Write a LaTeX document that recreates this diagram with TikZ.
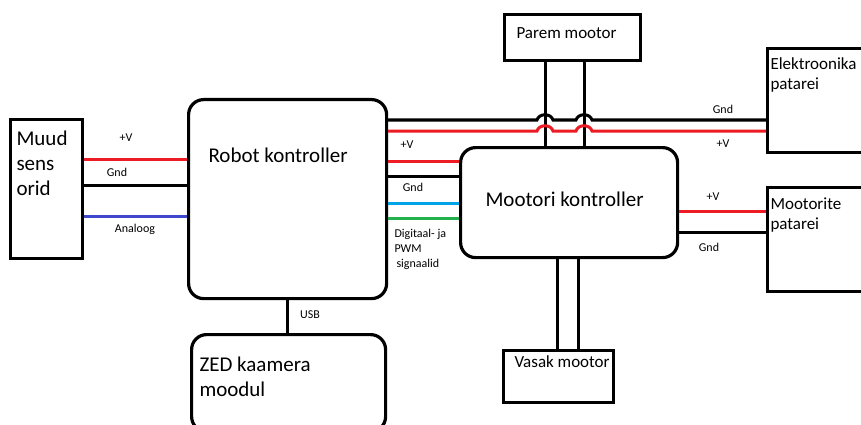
\documentclass[tikz,border=0pt]{standalone}
\usepackage{fontspec}
\setmainfont{Carlito}
\definecolor{wirered}{RGB}{237,28,36}
\definecolor{wireblue}{RGB}{63,72,204}
\definecolor{wirecyan}{RGB}{0,162,232}
\definecolor{wiregreen}{RGB}{34,177,76}
\begin{document}
\begin{tikzpicture}
  [x = 1pt, y = -1pt, line width = 3pt,
   box/.style = {draw, line width = 3.2pt, anchor = north west, inner sep = 0pt},
   rbox/.style = {box, rounded corners = 15pt},
   big/.style = {font = \fontsize{21}{25}\selectfont, inner sep = 0pt, align = left},
   mid/.style = {font = \fontsize{17}{20}\selectfont, inner sep = 0pt, align = left},
   small/.style = {font = \fontsize{12}{15}\selectfont, inner sep = 0pt, align = left}]
  \useasboundingbox (0,0) rectangle (861,425);
  \clip (0,0) rectangle (861,425);
  \fill[white] (0,0) rectangle (861,425);

  % blocks
  \node[box, minimum width = 72pt, minimum height = 139pt] (muud) at (9,118) {};
  \node[rbox, minimum width = 198pt, minimum height = 199pt] (robot) at (187,98) {};
  \node[rbox, minimum width = 194pt, minimum height = 97pt] (zed) at (190,333) {};
  \node[rbox, minimum width = 217pt, minimum height = 110pt] (mootori) at (459,146) {};
  \node[box, minimum width = 136pt, minimum height = 46pt] (parem) at (503,13) {};
  \node[box, minimum width = 110pt, minimum height = 52pt] (vasak) at (502,349) {};
  \node[box, minimum width = 120pt, minimum height = 104pt] (elek) at (766,47) {};
  \node[box, minimum width = 120pt, minimum height = 104pt] (mootorite) at (766,186) {};

  \node[big, anchor = north west] (muudtxt) at (15,129) {Muud\\sens\\orid};
  \node[big, anchor = base west] (robottxt) at (207,162) {Robot kontroller};
  \node[big, anchor = north west] (zedtxt) at (198,355) {ZED kaamera\\moodul};
  \node[big, anchor = base west] (mootoritxt) at (484,206) {Mootori kontroller};
  \node[mid, anchor = base west] (paremtxt) at (515,39) {Parem mootor};
  \node[mid, anchor = base west] (vasaktxt) at (513,367) {Vasak mootor};
  \node[mid, anchor = north west] (elektxt) at (769,56) {Elektroonika\\patarei};
  \node[mid, anchor = north west] (mootoritetxt) at (769,196) {Mootorite\\patarei};

  % sensors to controller
  \foreach \y/\c in {159/wirered, 185/black, 216/wireblue}
    \draw[\c] (muud.east |- 0,\y) -- (robot.west |- 0,\y);
  \node[small] (v1) at (126,138) {+V};
  \node[small] (g1) at (117,172) {Gnd};
  \node[small] (an) at (135,229) {Analoog};

  % camera
  \draw (robot.south) -- (robot.south |- zed.north);
  \node[small] (usb) at (310,315) {USB};

  % controller to motor controller
  \foreach \y/\c in {161/wirered, 176/black, 203/wirecyan, 218/wiregreen}
    \draw[\c] (robot.east |- 0,\y) -- (mootori.west |- 0,\y);
  \node[small] (v2) at (407,145) {+V};
  \node[small] (g2) at (413,187) {Gnd};
  \node[small, anchor = north west] (sig) at (393,228)
    {Digitaal- ja\\PWM\\\hspace{2pt}signaalid};

  % motor leads
  \foreach \x in {545, 584}
    \draw (parem.south -| \x,0) -- (mootori.north -| \x,0);
  \foreach \x in {557, 578}
    \draw (mootori.south -| \x,0) -- (vasak.north -| \x,0);

  % electronics battery, hopping over the motor leads
  \foreach \y/\c in {120/black, 131/wirered}
    \draw[\c] (robot.east |- 0,\y) -- (537,\y)
      .. controls (539,\y-7) and (551,\y-7) .. (553,\y) -- (576,\y)
      .. controls (578,\y-7) and (590,\y-7) .. (592,\y) -- (elek.west |- 0,\y);
  \node[small] (g3) at (723,109) {Gnd};
  \node[small] (v3) at (723,144) {+V};

  % motor battery
  \foreach \y/\c in {211/wirered, 232/black}
    \draw[\c] (mootori.east |- 0,\y) -- (mootorite.west |- 0,\y);
  \node[small] (v4) at (713,197) {+V};
  \node[small] (g4) at (709,247) {Gnd};
\end{tikzpicture}
\end{document}
